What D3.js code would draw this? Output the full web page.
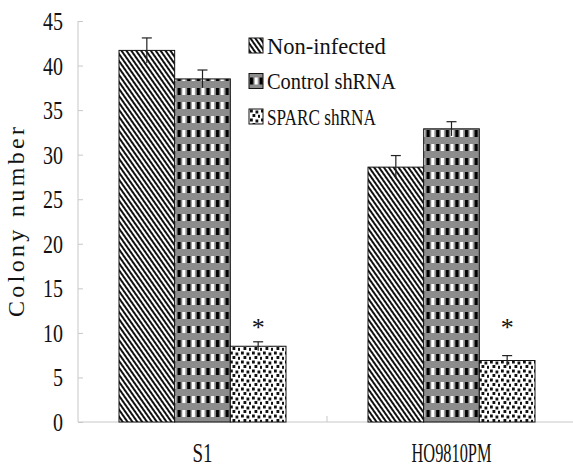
<!DOCTYPE html>
<html>
<head>
<meta charset="utf-8">
<script src="https://cdn.jsdelivr.net/npm/d3@7"></script>
<style>
  body { margin: 0; background: #fff; }
  svg { display: block; }
  text { fill: #111; }
</style>
</head>
<body>
<div id="chart"></div>
<script>
// values
const categories = ["S1", "HO9810PM"];
const seriesNames = ["Non-infected", "Control shRNA", "SPARC shRNA"];
const nonInfected = [41.7, 28.6];
const nonInfectedErr = [1.4, 1.3];
const controlShrna = [38.5, 32.9];
const controlShrnaErr = [1.0, 0.8];
const sparcShrna = [8.5, 6.9];
const sparcShrnaErr = [0.5, 0.55];
const significant = [false, false, true];
const starLevel = 9.0; // asterisks sit at the same height in both groups
const yTicks = [0, 5, 10, 15, 20, 25, 30, 35, 40, 45];

let width = 573, height = 470;
let values = [nonInfected, controlShrna, sparcShrna];
let errs = [nonInfectedErr, controlShrnaErr, sparcShrnaErr];
let serif = "Liberation Serif, DejaVu Serif, serif";

let svg = d3.select("#chart").append("svg")
    .attr("width", width).attr("height", height);

let defs = svg.append("defs");

// diagonal stripes
let p1 = defs.append("pattern").attr("id", "pat0")
    .attr("patternUnits", "userSpaceOnUse")
    .attr("width", 4).attr("height", 4)
    .attr("patternTransform", "rotate(-35)");
p1.append("rect").attr("width", 4).attr("height", 4).attr("fill", "#fff");
p1.append("rect").attr("width", 2).attr("height", 4).attr("fill", "#111");

// grey bands with black/white blocks
let p2 = defs.append("pattern").attr("id", "pat1")
    .attr("patternUnits", "userSpaceOnUse")
    .attr("width", 9.6).attr("height", 14);
p2.append("rect").attr("width", 9.6).attr("height", 14).attr("fill", "#8c8c8c");
p2.append("rect").attr("x", 1).attr("y", 4).attr("width", 3.2).attr("height", 7).attr("fill", "#000");
p2.append("rect").attr("x", 5.6).attr("y", 4).attr("width", 3.2).attr("height", 7).attr("fill", "#fff");

// dots
let p3 = defs.append("pattern").attr("id", "pat2")
    .attr("patternUnits", "userSpaceOnUse")
    .attr("width", 11).attr("height", 9);
p3.append("rect").attr("width", 11).attr("height", 9).attr("fill", "#fff");
[[1, 0.5], [6.5, 1.5], [3.5, 5], [9, 5.8]].forEach(d =>
    p3.append("rect").attr("x", d[0]).attr("y", d[1])
        .attr("width", 2.8).attr("height", 3).attr("fill", "#111"));

let x0 = d3.scaleBand().domain(categories).range([78, 576]);
let groupW = 167;
let x1 = d3.scaleBand().domain(seriesNames).range([0, groupW]);
let y = d3.scaleLinear().domain([0, 45]).range([422, 21]);

// axes
let yAxis = svg.append("g")
    .attr("transform", "translate(78,0)")
    .call(d3.axisLeft(y).tickValues(yTicks).tickSize(-5).tickPadding(15));
yAxis.select(".domain").attr("stroke", "#c8c8c8").attr("d", `M0,${y(45)}V${y(0)}`);
yAxis.selectAll(".tick line").attr("stroke", "#c8c8c8");
yAxis.selectAll(".tick text")
    .attr("font-family", serif)
    .attr("font-size", 25)
    .attr("dy", "0.34em")
    .attr("textLength", d => String(d).length * 10)
    .attr("lengthAdjust", "spacingAndGlyphs")
    .attr("fill", "#111");

let xAxis = svg.append("g");
xAxis.append("line")
    .attr("x1", 78).attr("x2", width)
    .attr("y1", y(0)).attr("y2", y(0))
    .attr("stroke", "#c8c8c8");
xAxis.selectAll(".xt").data(categories.slice(1))
    .join("line").attr("class", "xt")
    .attr("x1", d => x0(d)).attr("x2", d => x0(d))
    .attr("y1", y(0)).attr("y2", y(0) - 6)
    .attr("stroke", "#c8c8c8");
xAxis.selectAll("text").data(categories)
    .join("text")
    .attr("x", d => x0(d) + x0.bandwidth() / 2)
    .attr("y", 462)
    .attr("text-anchor", "middle")
    .attr("font-family", serif)
    .attr("font-size", 28)
    .attr("textLength", d => d.length * 10)
    .attr("lengthAdjust", "spacingAndGlyphs")
    .text(d => d);

svg.append("text")
    .attr("transform", "translate(24,222) rotate(-90)")
    .attr("text-anchor", "middle")
    .attr("font-family", serif)
    .attr("font-size", 24)
    .attr("textLength", 190)
    .text("Colony number");

// bars
let groups = svg.append("g").selectAll("g").data(categories)
    .join("g")
    .attr("transform", d => `translate(${x0(d) + (x0.bandwidth() - groupW) / 2},0)`);

seriesNames.forEach((s, si) => {
    groups.append("rect")
        .attr("x", x1(s))
        .attr("width", x1.bandwidth())
        .attr("y", (d, i) => y(values[si][i]))
        .attr("height", (d, i) => y(0) - y(values[si][i]))
        .attr("fill", `url(#pat${si})`)
        .attr("stroke", "#111")
        .attr("stroke-width", 1);
    let cx = x1(s) + x1.bandwidth() / 2;
    groups.append("line")
        .attr("x1", cx).attr("x2", cx)
        .attr("y1", (d, i) => y(values[si][i] + errs[si][i]))
        .attr("y2", (d, i) => y(values[si][i] - errs[si][i]))
        .attr("stroke", "#222").attr("stroke-width", 1.2);
    groups.append("line")
        .attr("x1", cx - 5).attr("x2", cx + 5)
        .attr("y1", (d, i) => y(values[si][i] + errs[si][i]))
        .attr("y2", (d, i) => y(values[si][i] + errs[si][i]))
        .attr("stroke", "#222").attr("stroke-width", 1.2);
    if (significant[si]) {
        groups.append("text")
            .attr("x", cx)
            .attr("y", y(starLevel) - 6)
            .attr("text-anchor", "middle")
            .attr("font-family", serif)
            .attr("font-size", 26)
            .text("*");
    }
});

// legend
let legend = svg.append("g").attr("transform", "translate(249,38)");
let items = legend.selectAll("g").data(seriesNames)
    .join("g")
    .attr("transform", (d, i) => `translate(0,${i * 35.5})`);
items.append("rect")
    .attr("width", 14).attr("height", 15)
    .attr("fill", (d, i) => `url(#pat${i})`)
    .attr("stroke", "#111");
items.append("text")
    .attr("x", 18).attr("y", 15.5)
    .attr("font-family", serif)
    .attr("font-size", 23)
    .attr("textLength", d => d.length * 9.9)
    .attr("lengthAdjust", "spacingAndGlyphs")
    .text(d => d);
</script>
</body>
</html>
